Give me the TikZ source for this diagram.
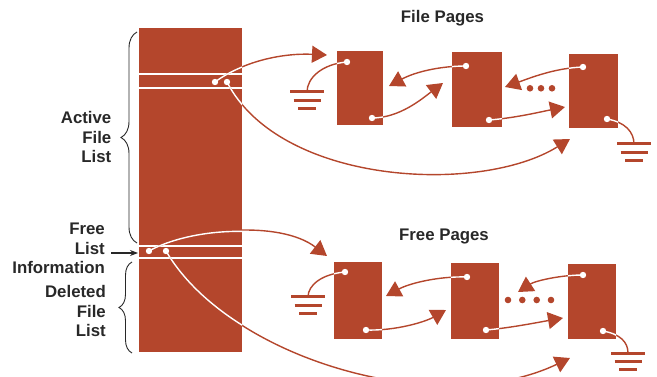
\documentclass[tikz,border=0pt]{standalone}
\usepackage{fontspec}
\setmainfont{Liberation Sans}
\usetikzlibrary{arrows.meta,decorations.pathreplacing}
\definecolor{rust}{RGB}{180,70,44}
\definecolor{ink}{RGB}{40,40,40}

% all links between page dots; drawn twice (rust, then white inside the blocks)
\newcommand\pagelinks{%
  % file pages
  \draw[lnk,head] (bd1) .. controls (245,60) and (285,53) .. (t1);
  \draw[lnk] (f1a) .. controls (322,64) and (307,78) .. (e1);
  \draw[lnk,head] (f2a) .. controls (440,66) and (415,72) .. (t2);
  \draw[lnk,head] (f1b) .. controls (400,118) and (423,98) .. (t3);
  \draw[lnk,head] (f3a) .. controls (555,68) and (530,78) .. (t4);
  \draw[lnk,head] (f2b) .. controls (515,118) and (540,112) .. (t5);
  \draw[lnk] (f3b) .. controls (625,122) and (634,132) .. (e2);
  \draw[lnk,head] (bd2) .. controls (280,185) and (480,195) .. (t6);
  % free pages
  \draw[lnk,head] (bd3) .. controls (190,228) and (280,220) .. (u1);
  \draw[lnk] (b1a) .. controls (322,274) and (308,285) .. (e3);
  \draw[lnk,head] (b2a) .. controls (440,276) and (410,283) .. (u2);
  \draw[lnk,head] (b1b) .. controls (395,331) and (425,322) .. (u3);
  \draw[lnk,head] (b3a) .. controls (560,275) and (535,281) .. (u4);
  \draw[lnk,head] (b2b) .. controls (510,328) and (540,322) .. (u5);
  \draw[lnk] (b3b) .. controls (620,334) and (628,342) .. (e4);
  \draw[lnk,head] (bd4) .. controls (230,360) and (440,420) .. (u6);
}

\begin{document}
\begin{tikzpicture}[x=1pt,y=-1pt,
  blk/.style={fill=rust, draw=none, inner sep=0pt},
  lnk/.style={draw=rust, line width=1.4pt},
  head/.style={-{Triangle[length=15pt,width=17pt]}},
  hole/.style={fill=white},
  lbl/.style={font=\fontsize{16.8}{19.5}\selectfont\bfseries, text=ink, inner sep=0pt, align=right},
  ttl/.style={font=\fontsize{16.8}{19.5}\selectfont\bfseries, text=ink, inner sep=0pt},
  bracestyle/.style={draw=ink, line width=0.9pt, decorate},
  earth/.pic={\draw[rust, line width=3pt] (-17,0) -- (17,0) (-13.5,8.3) -- (13.5,8.3) (-9,16.6) -- (9,16.6);}
]
\useasboundingbox (0,0) rectangle (657,377);
\clip (0,0) rectangle (657,377);

% directory block
\node[blk, minimum width=103pt, minimum height=324pt] (bar) at (190.5,190) {};
% file pages
\node[blk, minimum width=46pt, minimum height=74pt] (f1) at (360,88) {};
\node[blk, minimum width=50pt, minimum height=75pt] (f2) at (477,89.5) {};
\node[blk, minimum width=49pt, minimum height=74pt] (f3) at (593.5,91) {};
% free pages
\node[blk, minimum width=48pt, minimum height=77pt] (b1) at (358,300.5) {};
\node[blk, minimum width=48pt, minimum height=76pt] (b2) at (475,301) {};
\node[blk, minimum width=48pt, minimum height=75pt] (b3) at (592,301.5) {};

% entry separators in the directory
\foreach \yy in {74.5,88.5,246,258.5}
  \draw[white, line width=2pt] (bar.west |- 0,\yy) -- (bar.east |- 0,\yy);

% dots
\coordinate (bd1) at (215,82);  \coordinate (bd2) at (227,82);
\coordinate (bd3) at (149,251); \coordinate (bd4) at (166,251);
\coordinate (f1a) at (347,62);  \coordinate (f1b) at (372,118);
\coordinate (f2a) at (466,66);  \coordinate (f2b) at (489,120);
\coordinate (f3a) at (583,67);  \coordinate (f3b) at (607,119);
\coordinate (b1a) at (345,272); \coordinate (b1b) at (366,330);
\coordinate (b2a) at (467,277); \coordinate (b2b) at (486,330);
\coordinate (b3a) at (583,275); \coordinate (b3b) at (603,331);
% arrow targets
\coordinate (t1) at (327,55);  \coordinate (t2) at (389,86);
\coordinate (t3) at (443,83);  \coordinate (t4) at (505,87);
\coordinate (t5) at (565,107); \coordinate (t6) at (570,139);
\coordinate (u1) at (327,256); \coordinate (u2) at (386,296);
\coordinate (u3) at (446,310); \coordinate (u4) at (518,292);
\coordinate (u5) at (563,318); \coordinate (u6) at (570,358);
% grounds
\coordinate (e1) at (307,92);  \coordinate (e2) at (634,144);
\coordinate (e3) at (308,297); \coordinate (e4) at (628,353);

\pagelinks
\begin{scope}[lnk/.style={draw=white, line width=1.4pt}, head/.style={}]
  \clip (bar.south west) rectangle (bar.north east)
        (f1.south west) rectangle (f1.north east)
        (f2.south west) rectangle (f2.north east)
        (f3.south west) rectangle (f3.north east)
        (b1.south west) rectangle (b1.north east)
        (b2.south west) rectangle (b2.north east)
        (b3.south west) rectangle (b3.north east);
  \pagelinks
\end{scope}

\foreach \d in {bd1,bd2,bd3,bd4,f1a,f1b,f2a,f2b,f3a,f3b,b1a,b1b,b2a,b2b,b3a,b3b}
  \fill[hole] (\d) circle[radius=3.2pt];

\pic at (e1) {earth};
\pic at (e2) {earth};
\pic at (e3) {earth};
\pic at (e4) {earth};

% ellipses between pages
\foreach \xx in {530,541,552} \fill[rust] (\xx,88.3) circle[radius=3.3pt];
\foreach \xx in {508,522.3,536.7,551} \fill[rust] (\xx,300) circle[radius=3.3pt];

% titles
\node[ttl] (fp) at (442.5,18.3) {File Pages};
\node[ttl] (frp) at (444,236.7) {Free Pages};

% side labels
\node[lbl, anchor=east] (act) at (111.5,137.2) {Active\\File\\List};
\node[lbl, anchor=east] (fli) at (105,248.8) {Free\\List\\Information};
\node[lbl, anchor=east] (del) at (106,311.2) {Deleted\\File\\List};

\draw[bracestyle, decoration={brace, amplitude=16pt}] (137,243) -- (137,32);
\draw[bracestyle, decoration={brace, amplitude=13pt}] (132,353) -- (132,262);

\coordinate (la) at (111,253);
\coordinate (lb) at (138,253);
\draw[ink, line width=1.1pt, -{Stealth[length=8pt,width=6pt]}] (la) -- (lb);
\end{tikzpicture}
\end{document}
